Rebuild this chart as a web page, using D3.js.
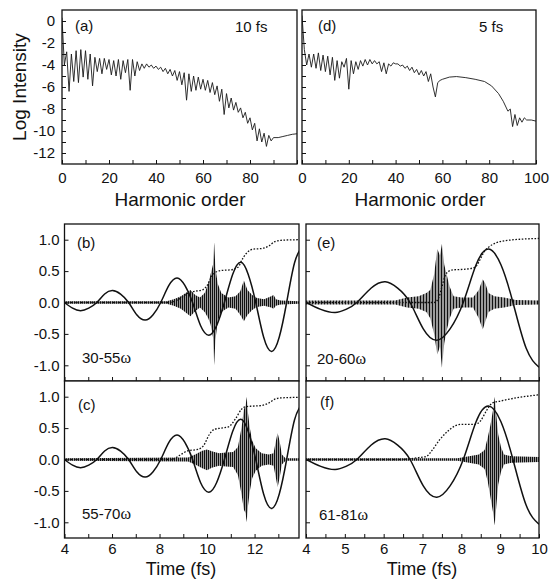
<!DOCTYPE html>
<html>
<head>
<meta charset="utf-8">
<script src="https://cdn.jsdelivr.net/npm/d3@7"></script>
<style>
  body { margin: 0; background: #fff; }
  svg { display: block; }
  text { font-family: "Liberation Sans", Arial, sans-serif; fill: #111; }
</style>
</head>
<body>
<svg id="fig" width="550" height="580"></svg>
<script>
// ---- spektra (log intenzita vs. harmonicky rad) ----
const specA_order = [0,1,2,3,4,5,6,7,8,9,10,11,12,13,14,15,16,17,18,19,20,21,22,23,24,25,26,27,28,29,30,
  31,32,33,34,35,36,37,38,39,40,41,42,43,44,45,46,47,48,49,50,51,52,53,54,55,56,57,58,59,60,
  61,62,63,64,65,66,67,68,69,70,71,72,73,74,75,76,77,78,79,80,81,82,83,84,85,86,87,88,89,90,92,94,96,98,100];
const specA_logI = [0.3,-4.0,-2.8,-6.4,-3.0,-5.5,-2.7,-5.6,-2.6,-5.1,-2.7,-5.3,-3.0,-5.9,-3.3,-4.6,-3.4,-4.8,-3.4,-4.4,-3.5,
  -4.9,-3.6,-5.0,-3.5,-5.3,-3.6,-4.7,-3.5,-6.3,-3.5,-5.0,-3.7,-4.5,-3.9,-4.3,-3.9,-4.2,-4.0,-4.3,-4.1,
  -4.4,-4.2,-4.6,-4.3,-4.8,-4.4,-5.0,-4.5,-5.4,-4.6,-5.8,-4.7,-7.2,-4.8,-6.4,-5.0,-6.3,-5.1,-6.2,-5.3,
  -6.3,-5.4,-6.5,-5.6,-6.7,-5.9,-7.3,-6.2,-8.5,-6.6,-7.9,-7.0,-8.1,-7.4,-8.3,-7.9,-8.8,-8.3,-9.3,-8.8,
  -9.9,-9.3,-10.9,-9.8,-11.0,-10.2,-11.4,-10.4,-10.9,-10.6,-10.6,-10.5,-10.4,-10.3,-10.25];

const specD_order = [0,1,2,3,4,5,6,7,8,9,10,11,12,13,14,15,16,17,18,19,20,21,22,23,24,25,26,27,28,29,30,
  31,32,33,34,35,36,37,38,39,40,41,42,43,44,45,46,47,48,49,50,51,52,53,54,55,56,57,58,59,60,
  63,66,70,74,78,81,84,86,88,89,90,91,92,93,94,95,96,98,100];
const specD_logI = [0.5,-2.6,-4.0,-3.0,-4.2,-3.0,-4.3,-2.9,-4.5,-3.1,-4.6,-3.2,-4.9,-3.3,-5.4,-3.6,-5.2,-3.7,-4.2,-3.4,-6.2,
  -3.6,-4.8,-3.7,-4.4,-3.6,-4.1,-3.5,-4.0,-3.5,-3.9,-3.6,-3.9,-3.7,-4.6,-3.8,-4.8,-3.9,-4.1,-3.8,-3.9,
  -3.9,-4.1,-4.0,-4.3,-4.1,-4.5,-4.2,-4.7,-4.4,-4.9,-4.5,-5.0,-4.6,-5.5,-4.8,-6.0,-6.9,-5.6,-5.4,-5.3,
  -5.1,-5.05,-5.15,-5.3,-5.5,-5.9,-6.6,-7.3,-8.2,-8.0,-9.6,-8.5,-9.5,-8.8,-9.2,-8.8,-9.0,-9.0,-9.1];

// ---- laserove pole (plna cara) ----
const field10_t = [4.0,4.34,4.68,5.02,5.36,5.69,6.02,6.36,6.7,7.05,7.4,7.72,8.05,8.4,8.74,9.06,9.39,9.73,10.08,10.4,10.73,11.08,11.42,11.73,12.05,12.38,12.72,13.04,13.35,13.68,14.0];
const field10_v = [0,-0.09,-0.13,-0.09,0,0.135,0.19,0.135,0,-0.2,-0.28,-0.2,0,0.275,0.39,0.275,0,-0.37,-0.52,-0.37,0,0.45,0.64,0.45,0,-0.55,-0.78,-0.55,0,0.63,0.89];
const field5_t = [4.0,4.38,4.75,5.03,5.31,5.68,6.04,6.36,6.68,7.02,7.37,7.71,8.05,8.38,8.7,9.02,9.33,9.67,10.0];
const field5_v = [0,-0.11,-0.16,-0.11,0,0.23,0.33,0.23,0,-0.42,-0.6,-0.42,0,0.6,0.85,0.6,0,-0.73,-1.03];

// ---- teckovana cara ----
const dotB_t = [4.0,8.4,8.9,9.2,9.5,9.8,10.0,10.2,10.4,10.6,11.0,11.3,11.5,11.7,11.95,12.3,12.6,12.85,13.1,13.87];
const dotB_v = [0,0,0.07,0.15,0.18,0.2,0.27,0.42,0.49,0.51,0.52,0.56,0.7,0.8,0.85,0.86,0.9,0.97,0.99,1.0];
const dotC_t = [4.0,8.5,8.9,9.2,9.6,9.85,10.1,10.3,10.6,10.9,11.2,11.45,11.6,11.9,12.3,12.6,12.85,13.1,13.87];
const dotC_v = [0,0,0.08,0.14,0.16,0.22,0.4,0.48,0.5,0.52,0.65,0.8,0.84,0.85,0.86,0.9,0.96,0.98,0.99];
const dotE_t = [4.0,7.3,7.42,7.5,7.58,7.68,7.8,8.1,8.35,8.48,8.58,8.7,8.9,9.2,10.0];
const dotE_v = [0,0,0.08,0.25,0.42,0.5,0.52,0.53,0.56,0.68,0.8,0.88,0.95,0.99,1.02];
const dotF_t = [4.0,6.4,6.9,7.1,7.25,7.45,7.65,7.85,8.0,8.35,8.5,8.65,8.8,9.0,9.5,10.0];
const dotF_v = [0,0,0.03,0.05,0.15,0.32,0.45,0.54,0.56,0.56,0.62,0.78,0.9,0.93,0.99,1.03];

// ---- obalky rychlych oscilaci (attosekundove pulzy) ----
const burstB_t  = [4.0,8.3,8.6,8.9,9.1,9.3,9.5,9.7,9.9,10.05,10.15,10.25,10.3,10.35,10.45,10.6,10.9,11.2,11.4,11.55,11.7,11.9,12.1,12.4,12.7,12.8,12.9,13.1,13.87];
const burstB_hi = [0.02,0.02,0.05,0.1,0.15,0.2,0.12,0.08,0.15,0.3,0.45,0.6,0.96,0.55,0.3,0.15,0.08,0.1,0.18,0.35,0.2,0.12,0.07,0.05,0.1,0.12,0.05,0.03,0.02];
const burstB_lo = [-0.02,-0.02,-0.05,-0.1,-0.16,-0.22,-0.14,-0.08,-0.15,-0.25,-0.35,-0.55,-1.0,-0.6,-0.3,-0.15,-0.08,-0.1,-0.2,-0.3,-0.2,-0.12,-0.07,-0.05,-0.08,-0.1,-0.05,-0.03,-0.02];
const burstC_t  = [4.0,9.2,9.5,9.8,10.0,10.2,10.5,10.8,11.1,11.3,11.45,11.55,11.62,11.67,11.72,11.8,11.9,12.05,12.3,12.6,12.8,12.9,12.97,13.05,13.15,13.3,13.87];
const burstC_hi = [0.02,0.03,0.08,0.14,0.16,0.13,0.1,0.11,0.12,0.2,0.5,0.8,0.85,1.0,0.75,0.5,0.3,0.18,0.1,0.08,0.1,0.3,0.42,0.3,0.08,0.02,0.02];
const burstC_lo = [-0.02,-0.03,-0.08,-0.14,-0.17,-0.13,-0.1,-0.11,-0.12,-0.25,-0.55,-0.8,-0.85,-1.0,-0.75,-0.5,-0.3,-0.18,-0.1,-0.08,-0.1,-0.3,-0.44,-0.3,-0.08,-0.02,-0.02];
const burstE_t  = [4.0,6.3,6.6,6.9,7.1,7.2,7.3,7.38,7.45,7.5,7.56,7.62,7.7,7.8,8.0,8.3,8.45,8.55,8.62,8.7,8.85,9.1,9.4,10.0];
const burstE_hi = [0.03,0.03,0.08,0.1,0.15,0.2,0.45,0.85,0.75,0.93,0.6,0.45,0.25,0.1,0.08,0.08,0.2,0.37,0.3,0.15,0.1,0.08,0.04,0.03];
const burstE_lo = [-0.03,-0.03,-0.08,-0.1,-0.15,-0.25,-0.5,-0.83,-0.7,-1.04,-0.65,-0.45,-0.25,-0.1,-0.08,-0.08,-0.25,-0.43,-0.3,-0.15,-0.1,-0.08,-0.04,-0.03];
const burstF_t  = [4.0,7.9,8.2,8.45,8.6,8.68,8.75,8.82,8.86,8.9,8.95,9.02,9.1,9.3,10.0];
const burstF_hi = [0.02,0.02,0.05,0.08,0.15,0.35,0.55,0.8,1.0,0.7,0.4,0.2,0.08,0.05,0.04];
const burstF_lo = [-0.02,-0.02,-0.05,-0.08,-0.15,-0.35,-0.6,-0.85,-1.05,-0.75,-0.4,-0.2,-0.08,-0.05,-0.04];

// ---- popisky os ----
const specTicksY = [0,-1,-2,-3,-4,-5,-6,-7,-8,-9,-10,-11,-12];
const specTicksX = [0,10,20,30,40,50,60,70,80,90,100];
const specLabelsA = [0,20,40,60,80];
const specLabelsD = [0,20,40,60,80,100];
const timeTicks10 = [4,5,6,7,8,9,10,11,12,13];
const timeLabels10 = [4,6,8,10,12];
const timeTicks5 = [4,4.5,5,5.5,6,6.5,7,7.5,8,8.5,9,9.5,10];
const timeLabels5 = [4,5,6,7,8,9,10];
const ampTicks = [-1,-0.5,0,0.5,1];

const svg = d3.select("#fig");
const defs = svg.append("defs");

// srafovani pro husté oscilace
function hatch(id, step) {
    const p = defs.append("pattern").attr("id", id)
        .attr("patternUnits", "userSpaceOnUse")
        .attr("width", step).attr("height", 6);
    p.append("rect").attr("width", step).attr("height", 6).attr("fill", "#9a9a9a");
    p.append("rect").attr("width", 1).attr("height", 6).attr("fill", "#111");
}
hatch("hatch2", 2);
hatch("hatch3", 3);

// vytvoreni jednoho panelu s ramem, osami a orezem
function panel(o) {
    const x = d3.scaleLinear().domain(o.xd).range([o.x0, o.x1]);
    const y = d3.scaleLinear().domain(o.yd).range([o.y1, o.y0]);
    const g = svg.append("g");
    g.append("rect").attr("x", o.x0).attr("y", o.y0)
        .attr("width", o.x1 - o.x0).attr("height", o.y1 - o.y0).attr("fill", "#fff");
    defs.append("clipPath").attr("id", "clip" + o.id).append("rect")
        .attr("x", o.x0).attr("y", o.y0).attr("width", o.x1 - o.x0).attr("height", o.y1 - o.y0);
    const plot = g.append("g").attr("clip-path", "url(#clip" + o.id + ")");

    const ax = g.append("g").attr("transform", "translate(0," + o.y1 + ")")
        .call(d3.axisBottom(x).tickValues(o.xt).tickSizeInner(-4).tickSizeOuter(0)
            .tickPadding(o.xpad)
            .tickFormat(d => o.xl.includes(d) ? d : ""));
    const ay = g.append("g").attr("transform", "translate(" + o.x0 + ",0)")
        .call(d3.axisLeft(y).tickValues(o.yt).tickSizeInner(-4).tickSizeOuter(0)
            .tickPadding(o.ypad)
            .tickFormat(d => o.yl ? o.yl(d) : ""));
    [ax, ay].forEach(a => {
        a.select(".domain").remove();
        a.selectAll("line").attr("stroke", "#111").attr("stroke-width", 1);
        a.selectAll("text").style("font-size", "15px").attr("fill", "#111");
    });
    g.append("rect").attr("x", o.x0).attr("y", o.y0)
        .attr("width", o.x1 - o.x0).attr("height", o.y1 - o.y0)
        .attr("fill", "none").attr("stroke", "#111").attr("stroke-width", 1.3);
    return {x, y, g, plot};
}

function label(txt, x, y, size, omega) {
    const t = svg.append("text").attr("x", x).attr("y", y).style("font-size", size + "px").text(txt);
    if (omega) t.append("tspan").style("font-family", "'Liberation Serif', 'DejaVu Serif', serif")
        .style("font-size", (size + 1) + "px").text("ω");
    return t;
}

// ---- spektra ----
function spectrum(p, xs, ys) {
    p.plot.append("path")
        .datum(xs.map((d, i) => [d, ys[i]]))
        .attr("fill", "none").attr("stroke", "#1a1a1a").attr("stroke-width", 0.9)
        .attr("stroke-linejoin", "round")
        .attr("d", d3.line().x(d => p.x(d[0])).y(d => p.y(d[1])));
}

const pa = panel({id: "a", x0: 62, x1: 297, y0: 10, y1: 164, xd: [0, 100], yd: [-13, 1],
    xt: specTicksX, xl: specLabelsA, xpad: 8, yt: specTicksY, ypad: 7,
    yl: d => (d % 2 === 0 ? String(d) : "")});
spectrum(pa, specA_order, specA_logI);

const pd = panel({id: "d", x0: 302, x1: 536, y0: 10, y1: 164, xd: [0, 100], yd: [-13, 1],
    xt: specTicksX, xl: specLabelsD, xpad: 8, yt: specTicksY, ypad: 7, yl: null});
spectrum(pd, specD_order, specD_logI);

// ---- casove prubehy ----
function trace(p, ft, fv, dt, dv, bt, bhi, blo, pat) {
    p.plot.append("path")
        .datum(bt.map((d, i) => [d, bhi[i], blo[i]]))
        .attr("fill", "url(#" + pat + ")").attr("stroke", "none")
        .attr("d", d3.area().x(d => p.x(d[0])).y0(d => p.y(d[2])).y1(d => p.y(d[1])));
    p.plot.append("path")
        .datum(ft.map((d, i) => [d, fv[i]]))
        .attr("fill", "none").attr("stroke", "#111").attr("stroke-width", 1.5)
        .attr("d", d3.line().curve(d3.curveNatural).x(d => p.x(d[0])).y(d => p.y(d[1])));
    p.plot.append("path")
        .datum(dt.map((d, i) => [d, dv[i]]))
        .attr("fill", "none").attr("stroke", "#111").attr("stroke-width", 1.3)
        .attr("stroke-dasharray", "1.6 1.6")
        .attr("d", d3.line().curve(d3.curveMonotoneX).x(d => p.x(d[0])).y(d => p.y(d[1])));
}

const ampFmt = d => d.toFixed(1);

const pb = panel({id: "b", x0: 64.5, x1: 299, y0: 224, y1: 381, xd: [4, 13.87], yd: [-1.25, 1.25],
    xt: timeTicks10, xl: [], xpad: 5, yt: ampTicks, ypad: 5, yl: ampFmt});
trace(pb, field10_t, field10_v, dotB_t, dotB_v, burstB_t, burstB_hi, burstB_lo, "hatch2");

const pc = panel({id: "c", x0: 64.5, x1: 299, y0: 381, y1: 538, xd: [4, 13.87], yd: [-1.25, 1.25],
    xt: timeTicks10, xl: timeLabels10, xpad: 5, yt: ampTicks, ypad: 5, yl: ampFmt});
trace(pc, field10_t, field10_v, dotC_t, dotC_v, burstC_t, burstC_hi, burstC_lo, "hatch2");

const pe = panel({id: "e", x0: 306, x1: 539, y0: 224, y1: 381, xd: [4, 10], yd: [-1.25, 1.25],
    xt: timeTicks5, xl: [], xpad: 5, yt: ampTicks, ypad: 5, yl: null});
trace(pe, field5_t, field5_v, dotE_t, dotE_v, burstE_t, burstE_hi, burstE_lo, "hatch3");

const pf = panel({id: "f", x0: 306, x1: 539, y0: 381, y1: 538, xd: [4, 10], yd: [-1.25, 1.25],
    xt: timeTicks5, xl: timeLabels5, xpad: 5, yt: ampTicks, ypad: 5, yl: null});
trace(pf, field5_t, field5_v, dotF_t, dotF_v, burstF_t, burstF_hi, burstF_lo, "hatch2");

// ---- texty ----
label("(a)", 75, 31, 15);
label("10 fs", 235, 32, 15);
label("(d)", 318, 31, 15);
label("5 fs", 479, 32, 15);
label("(b)", 77, 248, 15);
label("30-55", 82, 363, 15, true);
label("(e)", 317, 248, 15);
label("20-60", 317, 364, 15, true);
label("(c)", 78, 410, 15);
label("55-70", 82, 519, 15, true);
label("(f)", 320, 407, 15);
label("61-81", 319, 520, 15, true);

label("Harmonic order", 180, 206, 19).attr("text-anchor", "middle");
label("Harmonic order", 420, 206, 19).attr("text-anchor", "middle");
label("Time (fs)", 181, 575, 18).attr("text-anchor", "middle");
label("Time (fs)", 422, 575, 18).attr("text-anchor", "middle");
label("Log Intensity", 0, 0, 19).attr("text-anchor", "middle")
    .attr("transform", "translate(26,87) rotate(-90)");
</script>
</body>
</html>
